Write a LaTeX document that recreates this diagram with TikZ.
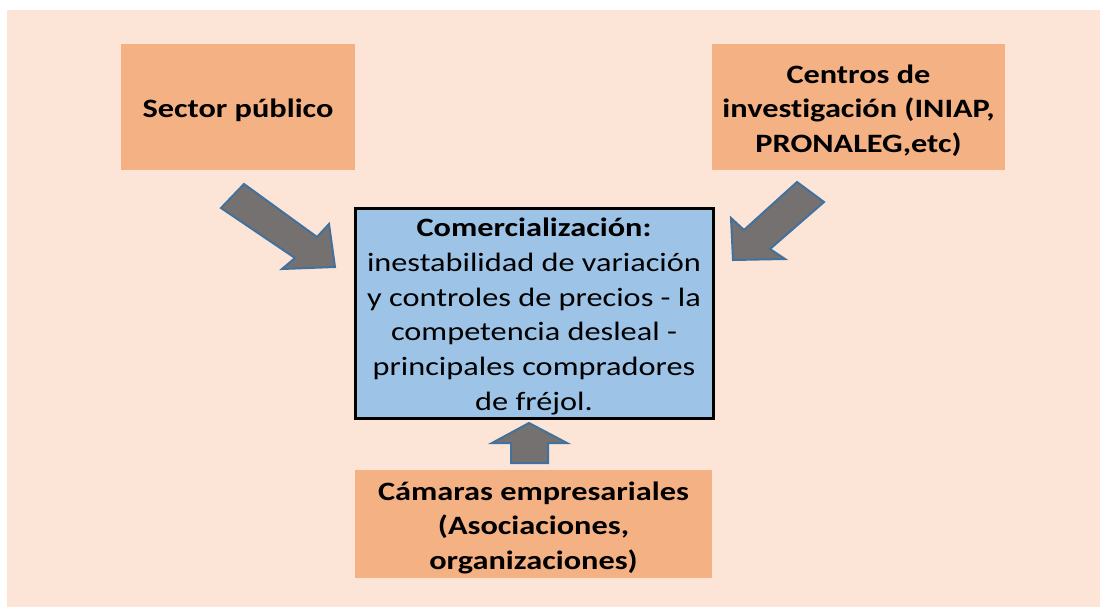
\documentclass[tikz,border=0pt]{standalone}
\usepackage{fontspec}
\setmainfont{Carlito}[FakeStretch=1.22, Ligatures=NoCommon]
\definecolor{bgpeach}{HTML}{FCE4D6}
\definecolor{orangebox}{HTML}{F4B183}
\definecolor{bluebox}{HTML}{9DC3E6}
\definecolor{arrowgray}{HTML}{767171}
\definecolor{arrowblue}{HTML}{41719C}
\tikzset{
  obox/.style={fill=orangebox, draw=none, inner sep=0pt},
  cbox/.style={fill=bluebox, draw=black, line width=3pt, inner sep=0pt},
  otext/.style={inner sep=0pt, align=center, yshift=-3.5pt, font=\fontsize{26.5}{34.5}\selectfont\bfseries},
  ctext/.style={inner sep=0pt, align=center, yshift=-3.5pt, font=\fontsize{26.5}{34.7}\selectfont},
  blockarrow/.style={fill=arrowgray, draw=arrowblue, line width=2pt, line join=miter}
}
\begin{document}
\begin{tikzpicture}[x=1pt,y=-1pt]
\useasboundingbox (0,0) rectangle (1100,607);
\fill[bgpeach] (7,10) rectangle (1100,607);
\node[obox, minimum width=234pt, minimum height=126pt] (sp) at (238,107) {};
\node[otext] (spt) at (sp.center) {Sector público};
\node[obox, minimum width=293pt, minimum height=126pt] (ci) at (858.5,107) {};
\node[otext] (cit) at (ci.center) {Centros de\\investigación (INIAP,\\PRONALEG,etc)};
\node[cbox, minimum width=358pt, minimum height=210pt] (co) at (534,313) {};
\node[ctext] (cot) at (co.center) {\textbf{Comercialización:}\\inestabilidad de variación\\y controles de precios - la\\competencia desleal -\\principales compradores\\de fréjol.};
\node[obox, minimum width=357pt, minimum height=108pt] (ca) at (533.5,524) {};
\node[otext] (cat) at (ca.center) {Cámaras empresariales\\(Asociaciones,\\organizaciones)};
% block arrows
\draw[blockarrow] (244,184) -- (317,237) -- (329,224) -- (335,267) -- (282,269) -- (295,258) -- (221,208) -- cycle;
\draw[blockarrow] (797,182) -- (824,202) -- (770,249) -- (785,259) -- (733,260) -- (731,218) -- (744,230) -- cycle;
\draw[blockarrow] (529,423) -- (567,443) -- (548,443) -- (548,463) -- (511,463) -- (511,443) -- (492,443) -- cycle;
\end{tikzpicture}
\end{document}
